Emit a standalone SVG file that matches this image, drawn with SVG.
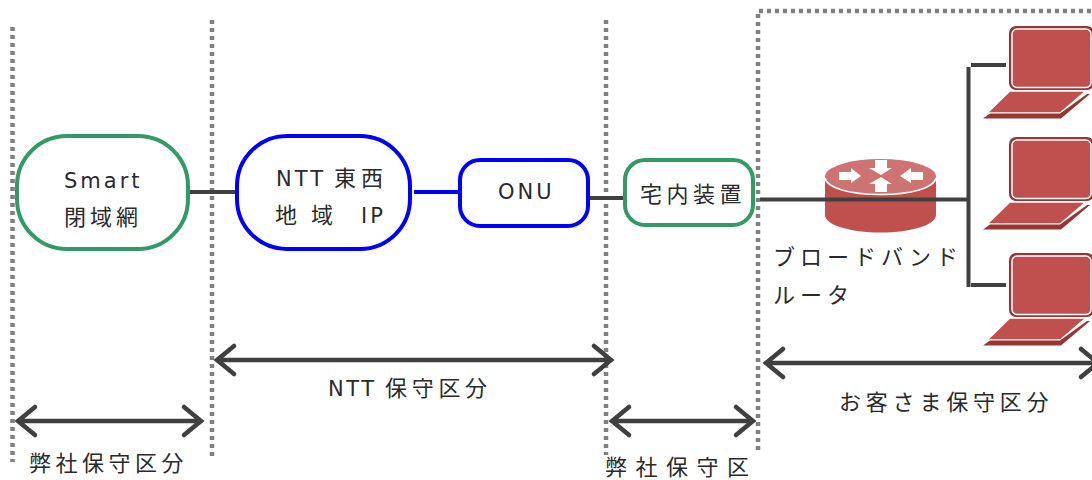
<svg xmlns="http://www.w3.org/2000/svg" width="1092" height="480" viewBox="0 0 1092 480">
<style>
text{font-family:"DejaVu Sans","Noto Sans CJK JP",sans-serif;font-size:21px;fill:#2a2a2a;white-space:pre}
.j{font-size:22px}
.dot{fill:none;stroke:#808080;stroke-width:4.500;stroke-dasharray:4 4}
.g{fill:#fff;stroke:#339966;stroke-width:4}
.b{fill:#fff;stroke:#0000ff;stroke-width:4}
.c{fill:none;stroke:#404040;stroke-width:4}
.a{fill:none;stroke:#404040;stroke-width:4.500;stroke-linecap:round;stroke-linejoin:miter}
</style>
<defs>
<g id="laptop">
<rect x="1009" y="26" width="85" height="64" rx="7" fill="#963634"/>
<rect x="1012" y="29" width="79" height="58.500" rx="5" fill="#c0504d" stroke="#fff" stroke-width="1.500"/>
<path d="M983 118.500L990 113.500H1060L1087 94H1090L1061 118.500Z" fill="#963634"/>
<path d="M1010 91.700H1084L1060 112.300H989Z" fill="#c0504d"/>
</g>
</defs>
<g id="boundaries">
<path class="dot" d="M12.500 27V462"/>
<path class="dot" d="M212 20V456"/>
<path class="dot" d="M606 20V455"/>
<path class="dot" d="M758 450V11H1092"/>
</g>
<g id="connectors">
<path class="c" d="M186 192H237"/>
<path d="M414 192H460" fill="none" stroke="#0000ff" stroke-width="4"/>
<path class="c" d="M590 198H625"/>
<path class="a" d="M18 421H201M35 407L18 421L35 435M184 407L201 421L184 435"/>
<path class="a" d="M217 360H611M234 346L217 360L234 374M594 346L611 360L594 374"/>
<path class="a" d="M612 421H753M629 407L612 421L629 435M736 407L753 421L736 435"/>
<path class="a" d="M766 363H1098M783 349L766 363L783 377M1081 349L1098 363L1081 377"/>
</g>
<g id="smart"><rect class="g" x="17" y="136" width="171" height="113" rx="50"/>
<text x="64" y="188" letter-spacing="3">Smart</text>
<text class="j" x="64" y="225" letter-spacing="4">閉域網</text></g>
<g id="ntt"><rect class="b" x="237" y="136" width="173" height="113" rx="50"/>
<text x="276" y="186" letter-spacing="3">NTT</text><text class="j" x="334" y="186" letter-spacing="5">東西</text>
<text class="j" x="275" y="223">地</text><text class="j" x="311" y="223">域</text><text x="361" y="223" letter-spacing="3">IP</text></g>
<g id="onu"><rect class="b" x="460" y="160" width="128" height="66" rx="20"/>
<text x="498" y="199" letter-spacing="3">ONU</text></g>
<g id="cpe"><rect class="g" x="625" y="160" width="128" height="65" rx="20"/>
<text class="j" x="640" y="202" letter-spacing="4.500">宅内装置</text></g>
<g id="router">
<path d="M825 176.500V215C825 225 850 232.500 880.500 232.500S936 225 936 215V176.500Z" fill="#c0504d"/>
<ellipse cx="880.500" cy="176.500" rx="55.500" ry="17.500" fill="#cd7371"/>
<path d="M825 178C827 188 850 194.500 880.500 194.500S934 188 936 178" fill="none" stroke="#fff" stroke-width="1.500"/>
<path d="M839 172H851V168L861 176L851 183V180H839Z M923 172H911V168L900 176L911 183V180H923Z M875 160H887V168H892L881 175L869 168H875Z M875 192H887V184H892L881 177L869 184H875Z" fill="#fff"/>
<path class="c" d="M760 199.500H970"/>
</g>
<path class="c" d="M968.500 67V287M971 65H1006M971 285H1006"/>
<g id="pc1"><use href="#laptop"/></g>
<g id="pc2"><use href="#laptop" y="111"/></g>
<g id="pc3"><use href="#laptop" y="227"/></g>
<g id="labels">
<text class="j" x="773" y="265" letter-spacing="5">ブロードバンド</text>
<text class="j" x="773" y="303" letter-spacing="5">ルータ</text>
<text x="328" y="396" letter-spacing="2.500">NTT</text><text class="j" x="385" y="396" letter-spacing="4.700">保守区分</text>
<text class="j" x="839" y="410" letter-spacing="4.800">お客さま保守区分</text>
<text class="j" x="29" y="471" letter-spacing="4.500">弊社保守区分</text>
<text class="j" x="605" y="475" letter-spacing="8.500">弊社保守区</text>
</g>
</svg>
